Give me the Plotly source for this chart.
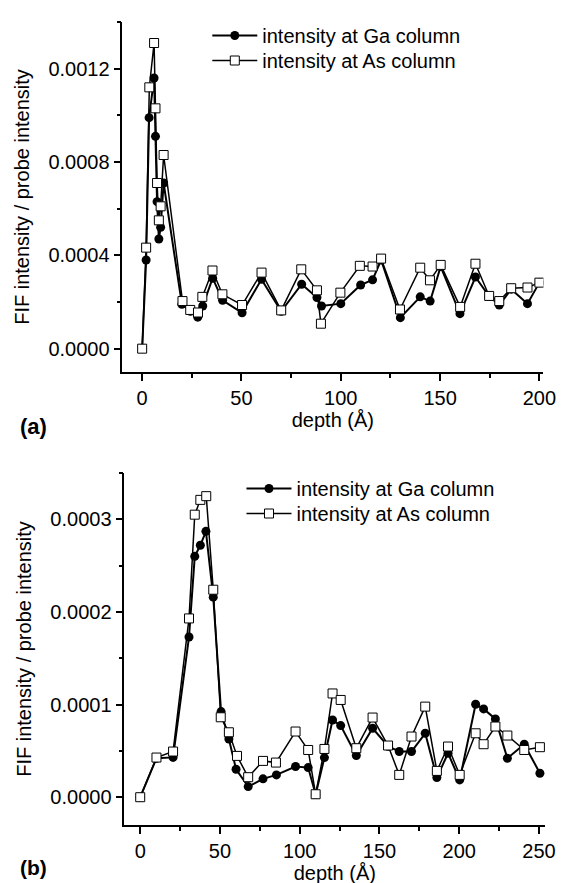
import plotly.graph_objects as go

# ---- panel (a) data ----
depth_a_ga = [0, 2, 3.5, 6, 6.7, 7.5, 8.4, 9.3, 10.8, 20, 24.3, 28, 30.5, 35.5, 40.5, 50.3, 60.1, 70,
              80.3, 88, 90.3, 100, 110, 116, 120.3, 130, 140, 145, 150.3, 160, 167.8, 174.7, 179.8,
              185.8, 194, 200]
ga_a = [0, 0.00038, 0.00099, 0.00116, 0.00091, 0.00063, 0.00047, 0.00052, 0.00071, 0.00019, 0.00016,
        0.000135, 0.000183, 0.000302, 0.000207, 0.000154, 0.000297, 0.00016, 0.000276, 0.000219,
        0.000183, 0.000193, 0.000273, 0.000295, 0.00038, 0.000133, 0.000222, 0.000204, 0.000352,
        0.00015, 0.000307, 0.000224, 0.000187, 0.000255, 0.000193, 0.000283]

depth_a_as = [0, 2, 3.6, 6, 6.7, 7.5, 8.4, 9.3, 10.8, 20.3, 24.2, 28.1, 30.3, 35.4, 40.4, 50.3, 60.1, 70,
              80.1, 88, 90, 99.8, 109.6, 116, 120.3, 129.8, 140, 144.9, 150.3, 160.1, 167.8, 174.7,
              179.8, 185.8, 194, 200]
as_a = [0, 0.000433, 0.00112, 0.00131, 0.00103, 0.00071, 0.00055, 0.00061, 0.00083, 0.000204, 0.000166,
        0.000155, 0.000222, 0.000335, 0.000233, 0.000187, 0.000326, 0.000164, 0.00034, 0.00025,
        0.000107, 0.00024, 0.000355, 0.000352, 0.000386, 0.000168, 0.000347, 0.000293, 0.000359,
        0.000179, 0.000364, 0.000226, 0.000204, 0.000259, 0.000262, 0.000283]

# ---- panel (b) data ----
depth_b_ga = [0, 10.2, 20.6, 30.6, 34.2, 37.7, 41.2, 45.8, 50.7, 55.6, 60.1, 67.7, 77, 85.4, 97.4, 105.3,
              110, 115.5, 120.6, 125.7, 135.5, 145.7, 155.4, 162.4, 170.1, 178.7, 186, 193, 200.3,
              210.3, 215.3, 222.7, 230.2, 240.8, 250.6]
ga_b = [0, 0.000042, 0.000043, 0.000173, 0.00026, 0.000272, 0.000287, 0.000216, 0.0000924, 0.0000629,
        0.0000302, 0.0000115, 0.0000198, 0.0000241, 0.0000331, 0.000032, 0.000003, 0.0000428, 0.0000834,
        0.0000773, 0.000045, 0.0000744, 0.000055, 0.0000493, 0.0000493, 0.000069, 0.0000212, 0.0000475,
        0.0000187, 0.0001003, 0.0000953, 0.0000845, 0.0000421, 0.0000572, 0.0000259]

depth_b_as = [0, 10.2, 20.6, 30.6, 34.2, 37.7, 41.4, 45.8, 50.5, 55.6, 60.7, 67.7, 77, 85.1, 97.4, 105.3,
              110, 115.5, 120.6, 125.7, 135.5, 145.7, 155.4, 162.4, 170.1, 178.7, 186, 193, 200.3,
              210.3, 215.3, 222.7, 230.2, 240.8, 250.6]
as_b = [0, 0.0000428, 0.0000493, 0.000193, 0.000305, 0.000321, 0.000325, 0.000224, 0.0000863, 0.0000701,
        0.0000446, 0.0000216, 0.0000392, 0.0000374, 0.0000709, 0.000051, 0.0000032, 0.0000521, 0.000112,
        0.000105, 0.0000529, 0.000086, 0.0000558, 0.0000241, 0.0000655, 0.0000978, 0.0000284, 0.0000547,
        0.0000241, 0.000069, 0.0000572, 0.0000763, 0.0000666, 0.000051, 0.000054]

names = ["intensity at Ga column", "intensity at As column"]
FONT = "Liberation Sans, Arial, Helvetica, sans-serif"

fig = go.Figure()

def add_pair(x_ga, y_ga, x_as, y_as, xa, ya, leg_ga, leg_as):
    fig.add_trace(go.Scatter(x=x_ga, y=y_ga, mode="lines+markers", name=names[0],
                             line=dict(color="black", width=2),
                             marker=dict(symbol="circle", size=9, color="black"),
                             xaxis=xa, yaxis=ya, legend=leg_ga))
    fig.add_trace(go.Scatter(x=x_as, y=y_as, mode="lines+markers", name=names[1],
                             line=dict(color="black", width=1.5),
                             marker=dict(symbol="square", size=9, color="white",
                                         line=dict(color="black", width=1)),
                             xaxis=xa, yaxis=ya, legend=leg_as))

add_pair(depth_a_ga, ga_a, depth_a_as, as_a, "x", "y", "legend", "legend2")
add_pair(depth_b_ga, ga_b, depth_b_as, as_b, "x2", "y2", "legend3", "legend4")

W, H = 564, 883

def xdom(l, r):
    return [l / W, r / W]

def ydom(top, bottom):
    return [1 - bottom / H, 1 - top / H]

axis_common = dict(showline=True, linecolor="black", linewidth=1.5, showgrid=False, zeroline=False,
                   ticks="outside", ticklen=7, tickwidth=1.5, tickcolor="black",
                   tickfont=dict(family=FONT, size=20, color="black"),
                   minor=dict(ticks="outside", ticklen=4, tickwidth=1.5, tickcolor="black", showgrid=False))

def leg(xpx, top_px):
    return dict(x=xpx / W, y=1 - top_px / H, xanchor="left", yanchor="top", bgcolor="rgba(0,0,0,0)",
                font=dict(family=FONT, size=20, color="black"), itemwidth=45)

LEG_OFF = 29
fig.update_layout(
    width=W, height=H,
    margin=dict(l=0, r=0, t=0, b=0),
    paper_bgcolor="white", plot_bgcolor="white",
    font=dict(family=FONT, size=20, color="black"),
    xaxis=dict(axis_common, domain=xdom(117, 548), range=[-10, 202], anchor="y",
               tick0=0, dtick=50, minor=dict(axis_common["minor"], dtick=25),
               title=dict(text="depth (Å)", font=dict(family=FONT, size=20), standoff=3)),
    yaxis=dict(axis_common, domain=ydom(14, 364), range=[-0.0001, 0.0014], anchor="x",
               tick0=0, dtick=0.0004, tickformat=".4f", minor=dict(axis_common["minor"], dtick=0.0002),
               title=dict(text="FIF intensity / probe intensity", font=dict(family=FONT, size=20), standoff=13)),
    xaxis2=dict(axis_common, domain=xdom(119, 550), range=[-10, 254], anchor="y2",
                tick0=0, dtick=50, minor=dict(axis_common["minor"], dtick=25),
                title=dict(text="depth (Å)", font=dict(family=FONT, size=20), standoff=0)),
    yaxis2=dict(axis_common, domain=ydom(465, 817), range=[-0.00003, 0.00035], anchor="x2",
                tick0=0, dtick=0.0001, tickformat=".4f", minor=dict(axis_common["minor"], dtick=0.00005),
                title=dict(text="FIF intensity / probe intensity", font=dict(family=FONT, size=20), standoff=13)),
    legend=leg(204, 37 - LEG_OFF),
    legend2=leg(204, 62 - LEG_OFF),
    legend3=leg(239, 490 - LEG_OFF),
    legend4=leg(239, 515 - LEG_OFF),
    showlegend=True,
    annotations=[
        dict(text="<b>(a)</b>", x=10 / W, y=1 - 418 / H, xref="paper", yref="paper",
             xanchor="left", yanchor="middle", showarrow=False, font=dict(family=FONT, size=22)),
        dict(text="<b>(b)</b>", x=10 / W, y=1 - 859 / H, xref="paper", yref="paper",
             xanchor="left", yanchor="middle", showarrow=False, font=dict(family=FONT, size=21)),
    ],
)

fig.write_html("out.html")
